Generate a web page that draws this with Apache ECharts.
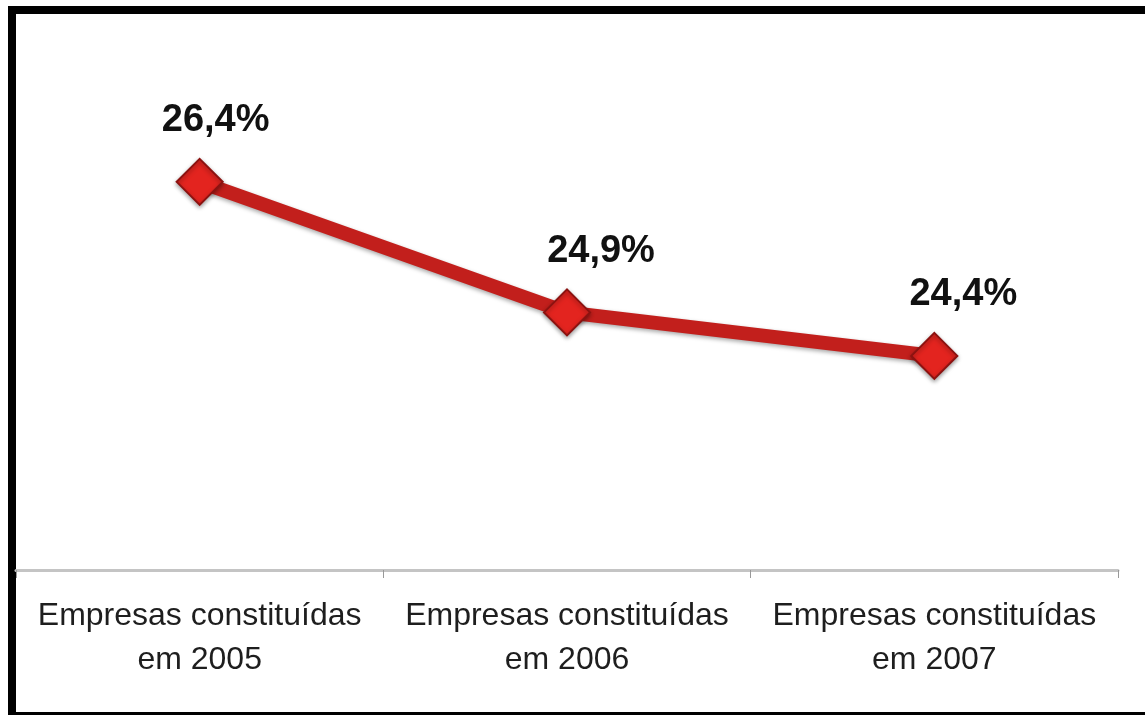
<!DOCTYPE html>
<html>
<head>
<meta charset="utf-8">
<script src="https://cdn.jsdelivr.net/npm/echarts@6/dist/echarts.min.js"></script>
<style>
    html, body { margin: 0; padding: 0; background: #fff; }
    #main { width: 1145px; height: 715px; }
</style>
</head>
<body>
<div id="main"></div>
<script>
var categories = ['Empresas constituídas\nem 2005', 'Empresas constituídas\nem 2006', 'Empresas constituídas\nem 2007'];
var values = [26.4, 24.9, 24.4];

// deslocamento horizontal dos rótulos (só estilo)
var labelDx = [16, 34, 29];

var seriesData = [];
for (var i = 0; i < values.length; i++) {
    seriesData.push({ value: values[i], label: { offset: [labelDx[i], 0] } });
}

var myChart = echarts.init(document.getElementById('main'));
myChart.setOption({
    backgroundColor: '#ffffff',
    animation: false,
    // moldura preta
    graphic: [
        { type: 'rect', shape: { x: 8, y: 6, width: 1137, height: 8 }, style: { fill: '#000' } },
        { type: 'rect', shape: { x: 8, y: 6, width: 8, height: 709 }, style: { fill: '#000' } },
        { type: 'rect', shape: { x: 8, y: 712, width: 1137, height: 3 }, style: { fill: '#000' } }
    ],
    grid: {
        left: 16,
        right: 27,
        top: 20,
        bottom: 145
    },
    xAxis: {
        type: 'category',
        data: categories,
        boundaryGap: true,
        axisLine: { lineStyle: { color: '#c4c4c4', width: 3 } },
        axisTick: { show: true, interval: 0, length: 8, lineStyle: { color: '#999', width: 1 } },
        axisLabel: {
            interval: 0,
            margin: 24,
            fontFamily: 'Liberation Sans',
            fontSize: 32,
            lineHeight: 44,
            color: '#1e1e1e'
        }
    },
    yAxis: {
        type: 'value',
        min: 21.94,
        max: 28.26,
        show: false,
        splitLine: { show: false }
    },
    series: [
        {
            type: 'line',
            data: seriesData,
            symbol: 'diamond',
            symbolSize: 46,
            lineStyle: {
                color: '#c21f1c',
                width: 14,
                shadowColor: 'rgba(0,0,0,0.35)',
                shadowBlur: 4,
                shadowOffsetY: 2
            },
            itemStyle: {
                color: '#e3241f',
                borderColor: '#8c1210',
                borderWidth: 2,
                shadowColor: 'rgba(0,0,0,0.35)',
                shadowBlur: 4,
                shadowOffsetY: 2
            },
            label: {
                show: true,
                position: 'top',
                distance: 18,
                fontFamily: 'Liberation Sans',
                fontWeight: 'bold',
                fontSize: 38,
                color: '#111',
                formatter: function (p) {
                    return p.value.toFixed(1).replace('.', ',') + '%';
                }
            }
        }
    ]
});
</script>
</body>
</html>
